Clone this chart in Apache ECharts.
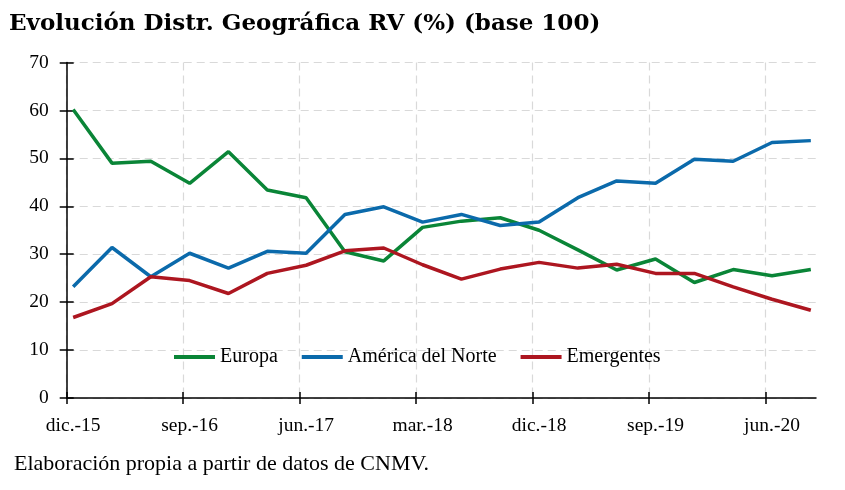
<!DOCTYPE html>
<html>
<head>
<meta charset="utf-8">
<script src="https://cdn.jsdelivr.net/npm/echarts@6/dist/echarts.min.js"></script>
<style>
  html, body { margin: 0; padding: 0; background: #fff; }
  #chart { width: 845px; height: 490px; }
</style>
</head>
<body>
<div id="chart"></div>
<script>
// trimestres, de dic.-15 a sep.-20
const periods = ['dic.-15', 'mar.-16', 'jun.-16', 'sep.-16', 'dic.-16', 'mar.-17', 'jun.-17', 'sep.-17',
    'dic.-17', 'mar.-18', 'jun.-18', 'sep.-18', 'dic.-18', 'mar.-19', 'jun.-19', 'sep.-19',
    'dic.-19', 'mar.-20', 'jun.-20', 'sep.-20'];
const tickLabels = ['dic.-15', 'sep.-16', 'jun.-17', 'mar.-18', 'dic.-18', 'sep.-19', 'jun.-20'];
const europa = [60.2, 49.0, 49.4, 44.8, 51.4, 43.4, 41.8, 30.5, 28.6, 35.6,
    36.9, 37.6, 35.0, 30.9, 26.7, 29.0, 24.1, 26.8, 25.5, 26.8];
const americaNorte = [23.2, 31.4, 25.3, 30.2, 27.1, 30.6, 30.2, 38.3, 39.9, 36.7,
    38.3, 36.0, 36.7, 41.8, 45.3, 44.8, 49.8, 49.4, 53.3, 53.7];
const emergentes = [16.8, 19.7, 25.3, 24.5, 21.8, 26.0, 27.7, 30.7, 31.3, 27.8,
    24.8, 26.9, 28.3, 27.1, 27.9, 26.0, 26.0, 23.2, 20.6, 18.3];
const yTicks = [0, 10, 20, 30, 40, 50, 60, 70];

const FONT = '"Liberation Serif", serif';

// eje x en meses desde dic.-15; cada dato a mitad del mes de su trimestre
const toPoints = arr => arr.map((v, i) => [i * 3 + 0.5, v]);
const tickMonths = tickLabels.map(l => periods.indexOf(l) * 3);
const labelMonths = tickMonths.map(m => m + 0.5);

let myChart = echarts.init(document.getElementById('chart'));

const xBase = {
    type: 'value',
    min: 0,
    max: 57.9,
    position: 'bottom'
};
const yBase = {
    type: 'value',
    min: yTicks[0],
    max: yTicks[yTicks.length - 1],
    interval: 10,
    position: 'left'
};
const gridLine = { show: true, lineStyle: { color: '#d9d9d9', type: [8, 5], width: 1.2 } };
const tickLine = { color: '#000', width: 1.5 };

myChart.setOption({
    animation: false,
    textStyle: { fontFamily: FONT },
    title: {
        text: 'Evolución Distr. Geográfica RV (%) (base 100)',
        left: 4,
        top: 8,
        textStyle: { fontFamily: '"DejaVu Serif", serif', fontSize: 23, fontWeight: 'bold', color: '#000' }
    },
    grid: {
        left: 66.7,
        right: 29,
        top: 62.5,
        bottom: 92
    },
    legend: {
        left: 169,
        top: 342,
        icon: 'rect',
        itemWidth: 41,
        itemHeight: 4,
        itemGap: 24,
        textStyle: { fontFamily: FONT, fontSize: 20, color: '#000' },
        data: ['Europa', 'América del Norte', 'Emergentes']
    },
    xAxis: [
        Object.assign({}, xBase, {
            axisLine: { lineStyle: tickLine },
            axisTick: { show: true, inside: false, length: 6, customValues: tickMonths, lineStyle: tickLine },
            axisLabel: {
                customValues: labelMonths,
                margin: 18,
                fontFamily: FONT,
                fontSize: 19.5,
                color: '#000',
                formatter: v => periods[Math.round((v - 0.5) / 3)] || ''
            },
            splitLine: gridLine
        }),
        Object.assign({}, xBase, {
            axisLine: { show: false },
            axisTick: { show: true, inside: true, length: 6, customValues: tickMonths, lineStyle: tickLine },
            axisLabel: { show: false },
            splitLine: { show: false }
        })
    ],
    yAxis: [
        Object.assign({}, yBase, {
            axisLine: { show: true, lineStyle: tickLine },
            axisTick: { show: true, inside: false, length: 7, lineStyle: tickLine },
            axisLabel: { margin: 18, fontFamily: FONT, fontSize: 19.5, color: '#000' },
            splitLine: gridLine
        }),
        Object.assign({}, yBase, {
            axisLine: { show: false },
            axisTick: { show: true, inside: true, length: 7, lineStyle: tickLine },
            axisLabel: { show: false },
            splitLine: { show: false }
        })
    ],
    graphic: [{
        type: 'text',
        left: 14,
        top: 453,
        style: {
            text: 'Elaboración propia a partir de datos de CNMV.',
            font: '22px "Liberation Serif", serif',
            fill: '#000'
        }
    }],
    series: [
        {
            name: 'Europa',
            type: 'line',
            data: toPoints(europa),
            symbol: 'none',
            lineStyle: { color: '#0a8537', width: 3.5 },
            itemStyle: { color: '#0a8537' }
        },
        {
            name: 'América del Norte',
            type: 'line',
            data: toPoints(americaNorte),
            symbol: 'none',
            lineStyle: { color: '#0b6aab', width: 3.5 },
            itemStyle: { color: '#0b6aab' }
        },
        {
            name: 'Emergentes',
            type: 'line',
            data: toPoints(emergentes),
            symbol: 'none',
            lineStyle: { color: '#ad1620', width: 3.5 },
            itemStyle: { color: '#ad1620' }
        }
    ]
});
</script>
</body>
</html>
